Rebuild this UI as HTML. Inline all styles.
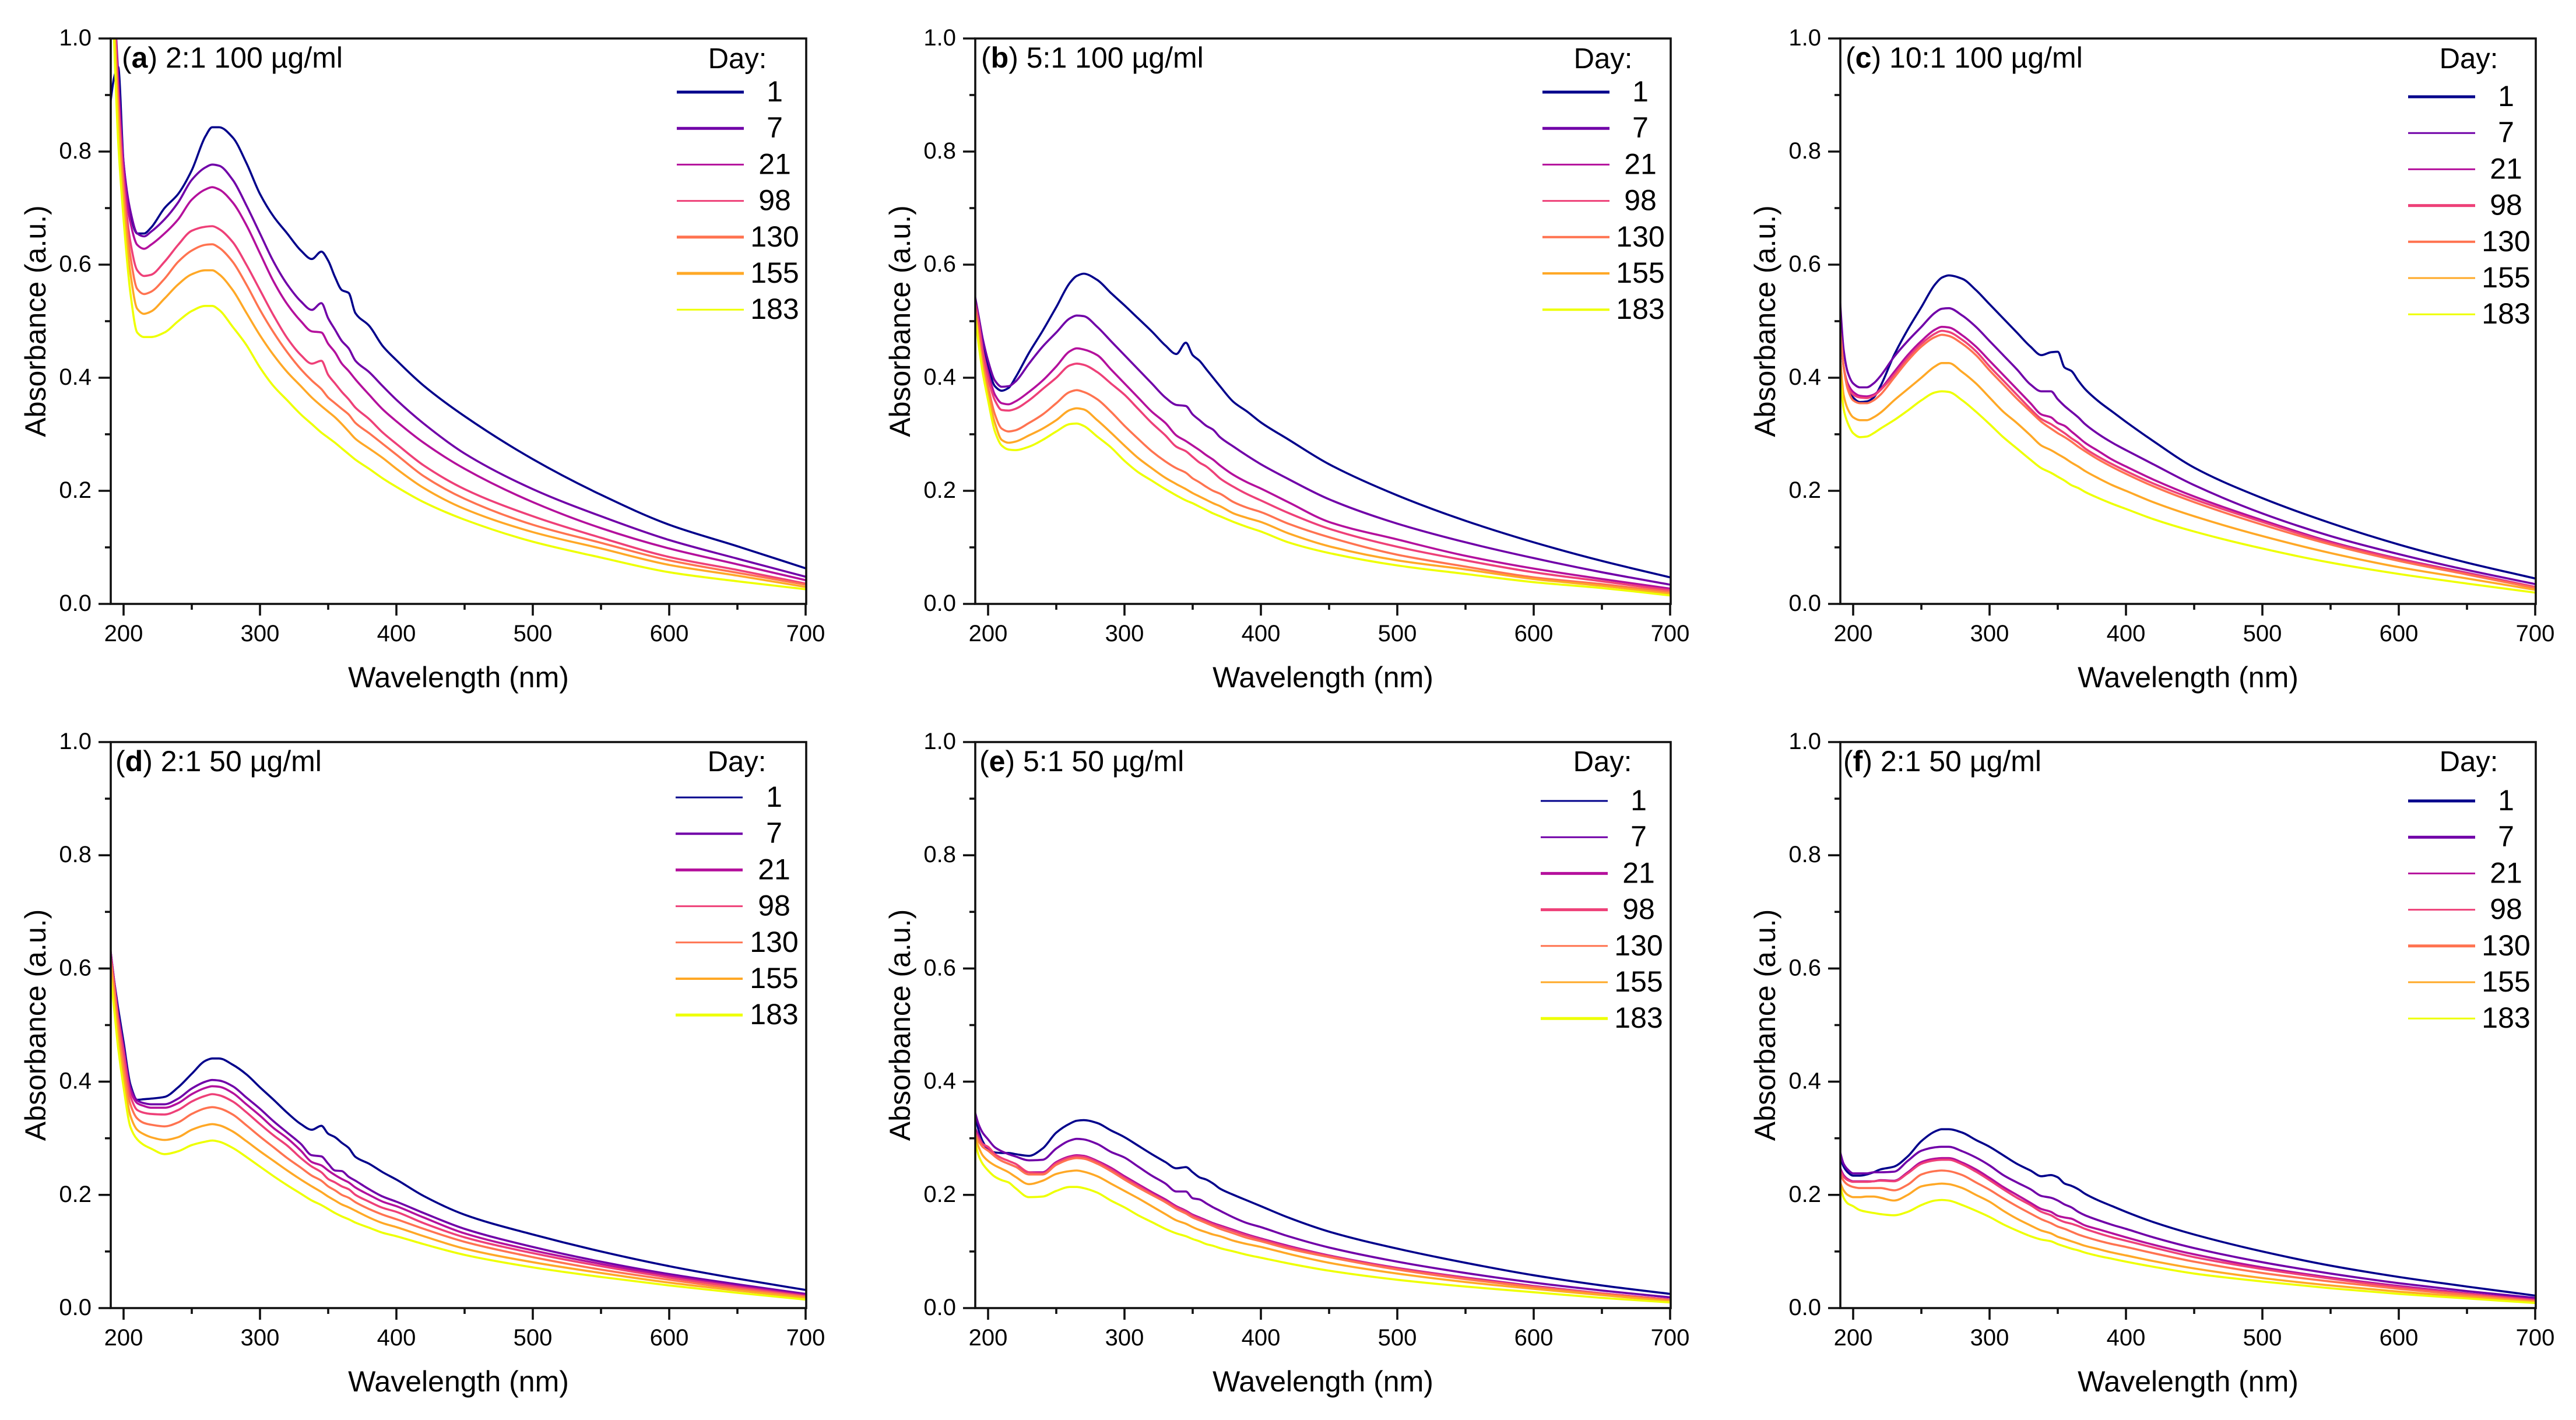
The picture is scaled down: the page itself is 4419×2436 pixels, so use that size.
<!DOCTYPE html>
<html lang="en">
<head>
<meta charset="utf-8">
<title>Absorbance spectra over time</title>
<style>
  html, body { margin: 0; padding: 0; background: #fff; }
  svg { display: block; }
  text { font-family: "Liberation Sans", Arial, sans-serif; fill: #000; }
</style>
</head>
<body>
<svg id="figure" xmlns="http://www.w3.org/2000/svg" width="4419" height="2436" viewBox="0 0 4419 2436"></svg>
<script>
// ---- Shared categories and tick labels ----
const wavelengths = [190,193,196,200,205,210,215,220,230,240,250,260,265,270,280,290,300,310,320,330,338,345,350,355,360,365,370,380,390,400,420,450,500,550,600,650,700];
const days = ['1','7','21','98','130','155','183'];
const xMajorTicks = [200,300,400,500,600,700];
const xMinorTicks = [250,350,450,550,650];
const yMajorTicks = [0,0.2,0.4,0.6,0.8,1.0];
const yMinorTicks = [0.1,0.3,0.5,0.7,0.9];

// ---- Panel (a) 2:1 100 ug/ml ----
const a_day1 = [.88,.93,.95,.78,.69,.655,.655,.665,.70,.725,.767,.827,.843,.843,.825,.78,.725,.685,.655,.625,.61,.623,.607,.578,.555,.55,.514,.492,.456,.431,.386,.332,.256,.193,.14,.102,.063];
const a_day7 = [1.3,1.08,.94,.78,.695,.655,.65,.658,.68,.71,.75,.772,.777,.775,.75,.705,.655,.605,.565,.535,.52,.532,.505,.485,.465,.452,.43,.41,.385,.361,.319,.266,.203,.155,.113,.08,.048];
const a_day21 = [1.3,1.07,.92,.77,.675,.635,.628,.635,.655,.68,.715,.733,.737,.733,.71,.67,.62,.57,.53,.5,.482,.48,.46,.445,.425,.412,.397,.37,.344,.323,.285,.239,.18,.134,.098,.07,.042];
const a_day98 = [1.3,1.06,.9,.75,.64,.59,.58,.582,.605,.635,.66,.667,.668,.663,.64,.6,.555,.51,.47,.44,.425,.43,.405,.39,.375,.362,.347,.327,.303,.283,.245,.203,.155,.117,.083,.06,.036];
const a_day130 = [1.3,1.05,.88,.73,.615,.557,.548,.552,.575,.605,.625,.635,.636,.63,.605,.565,.52,.48,.445,.415,.395,.38,.365,.355,.345,.335,.32,.302,.283,.264,.226,.186,.14,.108,.077,.055,.034];
const a_day155 = [1.28,1.03,.86,.71,.585,.522,.513,.517,.54,.565,.583,.59,.59,.583,.555,.515,.475,.44,.41,.385,.365,.35,.34,.33,.318,.305,.292,.275,.258,.239,.205,.168,.127,.098,.069,.05,.03];
const a_day183 = [1.25,1.0,.82,.68,.55,.48,.472,.472,.48,.5,.518,.527,.527,.52,.49,.458,.418,.385,.36,.335,.318,.303,.294,.285,.275,.265,.255,.239,.222,.207,.18,.149,.11,.082,.056,.04,.026];

// ---- Panel (b) 5:1 100 ug/ml ----
const b_day1 = [.55,.5,.46,.42,.385,.377,.382,.4,.444,.483,.525,.568,.58,.584,.573,.55,.528,.505,.482,.457,.442,.462,.44,.43,.415,.4,.385,.357,.34,.321,.291,.247,.192,.147,.109,.076,.047];
const b_day7 = [.55,.51,.47,.43,.395,.384,.385,.393,.425,.455,.48,.505,.51,.509,.49,.465,.44,.415,.39,.365,.352,.35,.335,.325,.315,.308,.295,.278,.262,.247,.221,.185,.142,.109,.081,.056,.034];
const b_day21 = [.54,.5,.45,.41,.37,.355,.353,.358,.375,.395,.42,.447,.452,.45,.44,.415,.39,.365,.34,.32,.298,.288,.28,.272,.263,.255,.245,.228,.215,.204,.18,.145,.114,.085,.0625,.044,.027];
const b_day98 = [.54,.5,.45,.4,.36,.343,.342,.345,.36,.38,.4,.422,.425,.423,.41,.39,.37,.345,.32,.298,.278,.27,.26,.25,.243,.233,.222,.207,.194,.183,.161,.133,.101,.077,.056,.04,.024];
const b_day130 = [.53,.48,.43,.385,.335,.31,.305,.307,.32,.335,.355,.375,.378,.375,.362,.34,.315,.292,.27,.252,.24,.232,.222,.215,.207,.2,.195,.18,.17,.1625,.142,.118,.087,.066,.047,.035,.021];
const b_day155 = [.53,.47,.42,.37,.32,.29,.285,.287,.298,.31,.325,.343,.346,.344,.325,.303,.28,.258,.24,.223,.212,.203,.196,.19,.184,.178,.173,.16,.152,.145,.125,.102,.077,.061,.044,.032,.018];
const b_day183 = [.52,.46,.41,.36,.305,.28,.273,.272,.278,.29,.305,.318,.319,.315,.296,.277,.253,.233,.218,.203,.192,.183,.178,.172,.166,.16,.155,.145,.136,.128,.109,.09,.068,.053,.0385,.028,.015];

// ---- Panel (c) 10:1 100 ug/ml ----
const c_day1 = [.5,.42,.385,.365,.357,.358,.365,.385,.44,.485,.525,.565,.577,.581,.575,.555,.53,.505,.48,.455,.44,.445,.446,.418,.412,.395,.38,.358,.34,.322,.288,.241,.187,.143,.105,.073,.045];
const c_day7 = [.55,.45,.41,.39,.383,.383,.39,.403,.437,.465,.49,.515,.522,.523,.51,.49,.465,.44,.415,.388,.376,.376,.362,.35,.34,.33,.318,.3,.285,.272,.247,.21,.16,.12,.088,.06,.035];
const c_day21 = [.5,.42,.39,.375,.368,.367,.37,.38,.41,.44,.465,.485,.49,.489,.475,.455,.43,.405,.38,.355,.335,.33,.32,.315,.305,.295,.285,.27,.255,.243,.22,.19,.148,.11,.08,.055,.03];
const c_day98 = [.5,.42,.385,.37,.365,.364,.368,.378,.405,.435,.46,.478,.483,.481,.467,.447,.42,.395,.37,.345,.327,.318,.31,.302,.293,.285,.275,.26,.247,.235,.213,.185,.145,.108,.079,.054,.03];
const c_day130 = [.5,.42,.38,.36,.355,.355,.36,.37,.4,.43,.455,.472,.476,.474,.46,.44,.413,.388,.363,.34,.322,.31,.302,.295,.287,.278,.27,.255,.242,.23,.208,.18,.14,.105,.076,.052,.028];
const c_day155 = [.45,.37,.345,.33,.325,.325,.33,.338,.36,.38,.4,.42,.426,.426,.41,.39,.365,.34,.32,.298,.28,.272,.265,.258,.25,.243,.235,.222,.21,.2,.18,.155,.12,.09,.065,.045,.025];
const c_day183 = [.42,.345,.32,.302,.295,.296,.302,.31,.325,.342,.36,.374,.376,.375,.36,.34,.318,.295,.275,.255,.24,.232,.225,.218,.21,.205,.198,.187,.177,.168,.15,.128,.098,.073,.053,.036,.02];

// ---- Panel (d) 2:1 50 ug/ml ----
const d_day1 = [.64,.58,.53,.47,.395,.368,.369,.37,.373,.39,.414,.437,.441,.441,.43,.413,.39,.368,.345,.325,.315,.322,.308,.302,.292,.283,.267,.255,.24,.227,.198,.165,.13,.1,.074,.052,.032];
const d_day7 = [.64,.58,.52,.46,.39,.367,.362,.36,.36,.37,.388,.4,.403,.402,.392,.372,.352,.33,.31,.29,.27,.268,.255,.243,.242,.232,.225,.21,.197,.188,.168,.14,.108,.082,.06,.042,.025];
const d_day21 = [.64,.58,.52,.46,.385,.362,.357,.354,.354,.362,.378,.389,.392,.391,.38,.36,.34,.318,.3,.278,.258,.252,.243,.235,.228,.222,.213,.2,.188,.18,.16,.132,.102,.078,.057,.039,.023];
const d_day98 = [.63,.57,.51,.45,.375,.35,.345,.343,.342,.35,.365,.375,.378,.376,.365,.346,.325,.305,.287,.265,.25,.24,.228,.222,.215,.21,.2,.188,.177,.17,.15,.125,.097,.074,.054,.037,.021];
const d_day130 = [.63,.57,.5,.43,.36,.335,.327,.324,.321,.328,.343,.353,.355,.353,.342,.323,.303,.284,.265,.248,.234,.225,.215,.208,.2,.195,.187,.175,.165,.157,.14,.117,.09,.068,.05,.034,.02];
const d_day155 = [.62,.55,.48,.41,.34,.315,.307,.302,.297,.302,.315,.323,.325,.323,.312,.295,.277,.26,.243,.227,.215,.205,.197,.19,.183,.178,.172,.16,.15,.143,.127,.105,.081,.062,.045,.031,.018];
const d_day183 = [.6,.53,.46,.39,.32,.298,.288,.282,.272,.277,.288,.294,.296,.294,.283,.267,.25,.233,.217,.202,.19,.182,.175,.168,.162,.157,.151,.142,.133,.127,.113,.094,.072,.055,.04,.027,.015];

// ---- Panel (e) 5:1 50 ug/ml ----
const e_day1 = [.345,.315,.295,.28,.275,.274,.274,.272,.269,.282,.31,.326,.331,.332,.327,.314,.302,.287,.272,.258,.247,.249,.24,.231,.227,.22,.211,.2,.19,.18,.16,.135,.105,.08,.058,.04,.025];
const e_day7 = [.35,.325,.31,.298,.284,.277,.272,.268,.261,.262,.282,.296,.299,.298,.29,.276,.266,.25,.234,.22,.206,.206,.194,.192,.185,.178,.172,.16,.15,.143,.127,.107,.082,.062,.045,.031,.019];
const e_day21 = [.32,.305,.29,.283,.268,.26,.255,.25,.24,.24,.258,.268,.27,.269,.26,.248,.233,.219,.205,.192,.18,.172,.165,.16,.155,.15,.146,.138,.13,.123,.11,.093,.071,.054,.039,.026,.015];
const e_day98 = [.315,.3,.29,.285,.272,.265,.26,.255,.24,.238,.256,.266,.268,.267,.258,.245,.23,.216,.202,.189,.178,.17,.163,.158,.153,.148,.144,.136,.128,.121,.108,.092,.07,.053,.038,.026,.015];
const e_day130 = [.31,.295,.285,.278,.268,.26,.255,.25,.236,.236,.253,.263,.265,.264,.255,.242,.227,.213,.2,.187,.175,.167,.16,.155,.15,.145,.14,.132,.124,.118,.105,.09,.068,.051,.037,.025,.014];
const e_day155 = [.31,.285,.27,.26,.252,.246,.24,.232,.219,.225,.237,.242,.243,.241,.233,.22,.207,.194,.18,.166,.155,.149,.143,.138,.134,.13,.127,.119,.113,.108,.096,.08,.061,.046,.034,.023,.012];
const e_day183 = [.3,.27,.255,.243,.232,.226,.222,.212,.196,.197,.207,.214,.214,.212,.204,.19,.178,.164,.152,.14,.132,.127,.122,.118,.113,.11,.106,.1,.094,.089,.079,.066,.05,.038,.028,.018,.01];

// ---- Panel (f) 2:1 50 ug/ml ----
const f_day1 = [.27,.25,.24,.234,.234,.236,.24,.245,.25,.268,.295,.312,.316,.316,.31,.297,.285,.27,.255,.243,.233,.235,.231,.22,.216,.21,.202,.19,.18,.17,.152,.13,.1,.075,.055,.038,.022];
const f_day7 = [.28,.255,.245,.238,.238,.238,.24,.24,.241,.26,.278,.284,.285,.285,.277,.266,.252,.235,.222,.21,.198,.195,.19,.183,.178,.17,.164,.155,.147,.14,.125,.106,.081,.061,.044,.03,.018];
const f_day21 = [.25,.235,.228,.224,.224,.224,.224,.226,.225,.24,.258,.264,.265,.265,.257,.245,.23,.214,.2,.186,.175,.17,.163,.16,.158,.152,.146,.139,.132,.125,.112,.095,.072,.054,.039,.026,.015];
const f_day98 = [.245,.232,.226,.223,.223,.223,.224,.225,.224,.238,.255,.261,.262,.262,.254,.241,.226,.21,.195,.182,.17,.164,.157,.152,.149,.145,.14,.132,.125,.119,.107,.09,.069,.052,.037,.025,.014];
const f_day130 = [.24,.225,.218,.214,.212,.212,.212,.212,.208,.218,.236,.242,.243,.242,.235,.222,.209,.194,.18,.167,.157,.15,.144,.14,.135,.13,.126,.119,.113,.108,.097,.082,.062,.047,.034,.023,.012];
const f_day155 = [.225,.208,.2,.196,.196,.197,.197,.195,.19,.2,.215,.219,.22,.219,.212,.2,.188,.172,.158,.146,.137,.132,.126,.122,.118,.114,.11,.104,.098,.093,.083,.07,.053,.04,.029,.02,.011];
const f_day183 = [.22,.195,.185,.18,.173,.17,.168,.166,.164,.17,.182,.19,.191,.19,.182,.172,.161,.148,.137,.127,.121,.118,.113,.109,.105,.102,.098,.092,.087,.082,.073,.061,.047,.035,.025,.017,.009];

// ---- Layout and styling (not data) ----
const dayColors = ['#00008b','#7000a8','#b4109c','#ee4078','#ff7350','#ffa826','#eeff00'];
const panels = [
  {id:'a', tag:'a', text:') 2:1 100 µg/ml', series:[a_day1,a_day7,a_day21,a_day98,a_day130,a_day155,a_day183], left:190, right:1383, x200:212, top:66, bottom:1036, labelX:209, labelY:116, legX:1161, legCx:1329, dayX:1265, dayY:117, legY:158, legW:[5,5,3,3,5,5,3]},
  {id:'b', tag:'b', text:') 5:1 100 µg/ml', series:[b_day1,b_day7,b_day21,b_day98,b_day130,b_day155,b_day183], left:1673, right:2866, x200:1695, top:66, bottom:1036, labelX:1683, labelY:116, legX:2646, legCx:2814, dayX:2750, dayY:117, legY:158, legW:[5,5,3,3,4,4,4]},
  {id:'c', tag:'c', text:') 10:1 100 µg/ml', series:[c_day1,c_day7,c_day21,c_day98,c_day130,c_day155,c_day183], left:3157, right:4350, x200:3179, top:66, bottom:1036, labelX:3166, labelY:116, legX:4131, legCx:4299, dayX:4235, dayY:117, legY:166, legW:[5,3,3,5,4,3,3]},
  {id:'d', tag:'d', text:') 2:1 50 µg/ml', series:[d_day1,d_day7,d_day21,d_day98,d_day130,d_day155,d_day183], left:190, right:1383, x200:212, top:1273, bottom:2244, labelX:198, labelY:1323, legX:1159, legCx:1328, dayX:1264, dayY:1323, legY:1368, legW:[3,4,5,3,3,4,5]},
  {id:'e', tag:'e', text:') 5:1 50 µg/ml', series:[e_day1,e_day7,e_day21,e_day98,e_day130,e_day155,e_day183], left:1673, right:2866, x200:1695, top:1273, bottom:2244, labelX:1680, labelY:1323, legX:2643, legCx:2811, dayX:2749, dayY:1323, legY:1374, legW:[3,3,5,5,3,3,5]},
  {id:'f', tag:'f', text:') 2:1 50 µg/ml', series:[f_day1,f_day7,f_day21,f_day98,f_day130,f_day155,f_day183], left:3157, right:4350, x200:3179, top:1273, bottom:2244, labelX:3162, labelY:1323, legX:4131, legCx:4299, dayX:4235, dayY:1323, legY:1374, legW:[5,5,3,3,5,3,3]}
];
const pxPerNm = 2.34;
const legendStep = 62.2;
const axisColor = '#111';

const svg = document.getElementById('figure');
const NS = 'http://www.w3.org/2000/svg';

function make(tag, parent, attrs) {
  const node = document.createElementNS(NS, tag);
  for (const k in attrs) node.setAttribute(k, attrs[k]);
  parent.appendChild(node);
  return node;
}

// Monotone cubic path through points (keeps peaks rounded with no overshoot)
function monotonePath(xs, ys) {
  const n = xs.length;
  const h = [], s = [], m = [];
  for (let i = 0; i < n - 1; i++) {
    h[i] = xs[i + 1] - xs[i];
    s[i] = (ys[i + 1] - ys[i]) / h[i];
  }
  m[0] = s[0];
  m[n - 1] = s[n - 2];
  for (let i = 1; i < n - 1; i++) {
    if (s[i - 1] * s[i] <= 0) { m[i] = 0; continue; }
    const w1 = 2 * h[i] + h[i - 1], w2 = h[i] + 2 * h[i - 1];
    m[i] = (w1 + w2) / (w1 / s[i - 1] + w2 / s[i]);
  }
  let d = 'M' + xs[0].toFixed(1) + ' ' + ys[0].toFixed(1);
  for (let i = 0; i < n - 1; i++) {
    const c = h[i] / 3;
    d += 'C' + (xs[i] + c).toFixed(1) + ' ' + (ys[i] + m[i] * c).toFixed(1) + ' '
       + (xs[i + 1] - c).toFixed(1) + ' ' + (ys[i + 1] - m[i + 1] * c).toFixed(1) + ' '
       + xs[i + 1].toFixed(1) + ' ' + ys[i + 1].toFixed(1);
  }
  return d;
}

panels.forEach(function (p) {
  const xScale = function (wl) { return p.x200 + (wl - 200) * pxPerNm; };
  const yScale = function (v) { return p.bottom - v * (p.bottom - p.top); };

  const g = make('g', svg, {});
  
  

  const defs = make('defs', g, {});
  const clip = make('clipPath', defs, {id: 'clip-' + p.id});
  make('rect', clip, {x: p.left, y: p.top, width: p.right - p.left, height: p.bottom - p.top});

  // Curves
  const curves = make('g', g, {'clip-path': 'url(#clip-' + p.id + ')', fill: 'none', 'stroke-linejoin': 'round'});
  
  
  p.series.forEach(function (vals, i) {
    const path = make('path', curves, {
      d: monotonePath(wavelengths.map(xScale), vals.map(yScale)),
      stroke: dayColors[i],
      'stroke-width': 3.6
    });
    
    
  });

  // Frame
  const frame = make('rect', g, {x: p.left, y: p.top, width: p.right - p.left, height: p.bottom - p.top, fill: 'none', stroke: axisColor, 'stroke-width': 3.6});
  
  

  // X ticks
  xMajorTicks.forEach(function (t) {
    const tick = make('line', g, {x1: xScale(t), x2: xScale(t), y1: p.bottom, y2: p.bottom + 20, stroke: axisColor, 'stroke-width': 3.6});
    
    
    const lab = make('text', g, {x: xScale(t), y: p.bottom + 64, 'font-size': 40, 'text-anchor': 'middle'});
    lab.textContent = String(t);
    
    
  });
  xMinorTicks.forEach(function (t) {
    const tick = make('line', g, {x1: xScale(t), x2: xScale(t), y1: p.bottom, y2: p.bottom + 10, stroke: axisColor, 'stroke-width': 3.6});
    
    
  });

  // Y ticks
  yMajorTicks.forEach(function (t) {
    const tick = make('line', g, {x1: p.left - 21, x2: p.left, y1: yScale(t), y2: yScale(t), stroke: axisColor, 'stroke-width': 3.6});
    
    
    const lab = make('text', g, {x: p.left - 33, y: yScale(t) + 12, 'font-size': 40, 'text-anchor': 'end'});
    lab.textContent = t.toFixed(1);
    
    
  });
  yMinorTicks.forEach(function (t) {
    const tick = make('line', g, {x1: p.left - 10, x2: p.left, y1: yScale(t), y2: yScale(t), stroke: axisColor, 'stroke-width': 3.6});
    
    
  });

  // Axis titles
  const xTitle = make('text', g, {x: (p.left + p.right) / 2, y: p.bottom + 143, 'font-size': 50, 'text-anchor': 'middle'});
  xTitle.textContent = 'Wavelength (nm)';
  
  

  const yCenter = (p.top + p.bottom) / 2;
  const yx = p.left - 112;
  const yTitle = make('text', g, {x: yx, y: yCenter, 'font-size': 50, 'text-anchor': 'middle', transform: 'rotate(-90 ' + yx + ' ' + yCenter + ')'});
  yTitle.textContent = 'Absorbance (a.u.)';
  
  

  // Panel label
  const label = make('text', g, {x: p.labelX, y: p.labelY, 'font-size': 50});
  
  
  const open = make('tspan', label, {});
  open.textContent = '(';
  const bold = make('tspan', label, {'font-weight': 'bold'});
  bold.textContent = p.tag;
  const rest = make('tspan', label, {});
  rest.textContent = p.text;

  // Legend
  const legend = make('g', g, {});
  
  
  const dayTitle = make('text', legend, {x: p.dayX, y: p.dayY, 'font-size': 49, 'text-anchor': 'middle'});
  dayTitle.textContent = 'Day:';
  
  
  days.forEach(function (d, i) {
    const ly = p.legY + i * legendStep;
    const swatch = make('line', legend, {x1: p.legX, x2: p.legX + 115, y1: ly, y2: ly, stroke: dayColors[i], 'stroke-width': p.legW[i]});
    
    
    const txt = make('text', legend, {x: p.legCx, y: ly + 16, 'font-size': 50, 'text-anchor': 'middle'});
    txt.textContent = d;
    
    
  });
});
</script>
</body>
</html>
